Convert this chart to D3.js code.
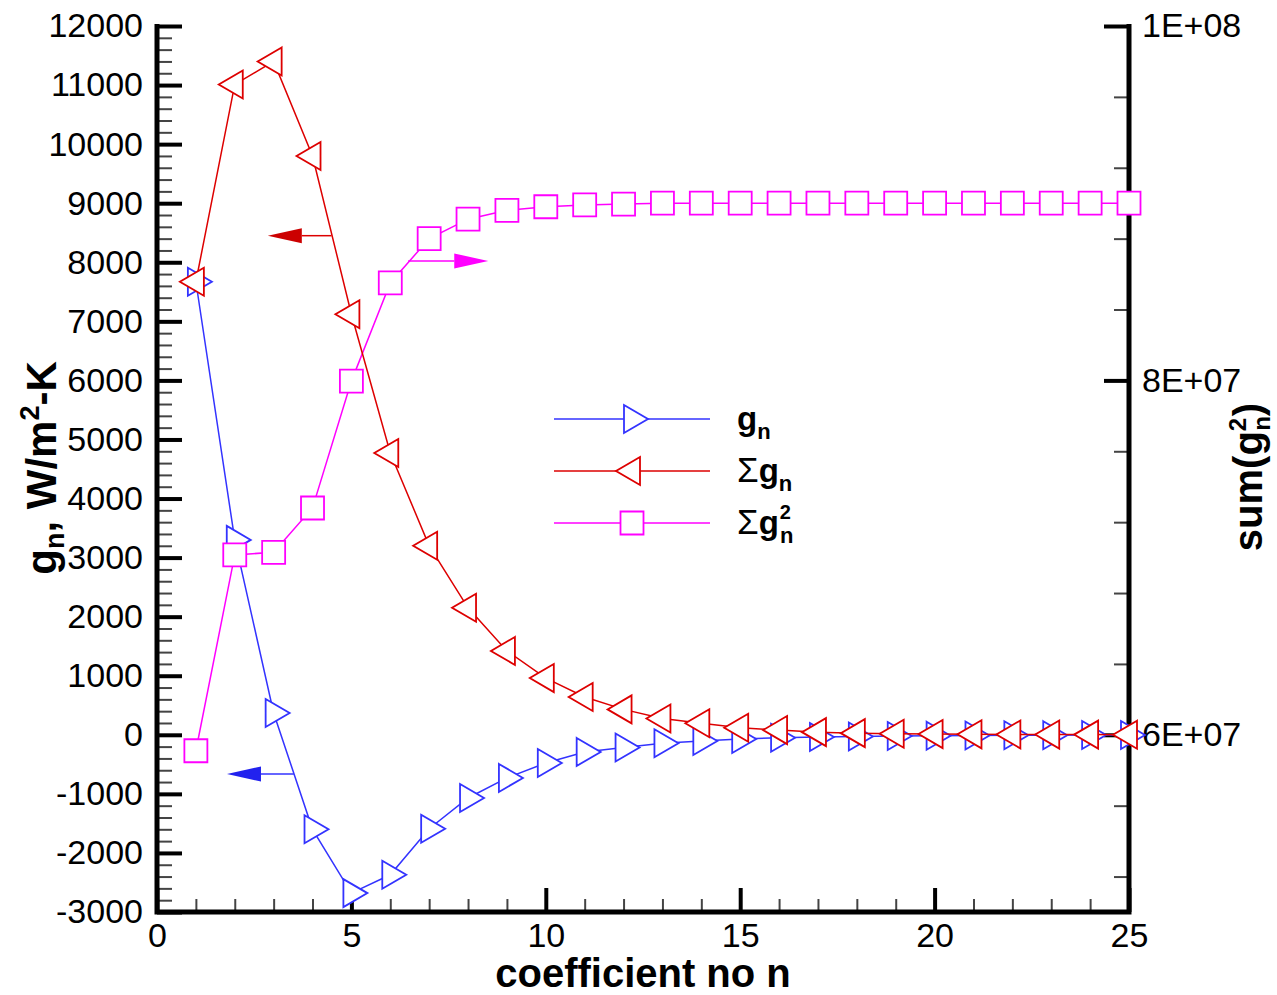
<!DOCTYPE html>
<html>
<head>
<meta charset="utf-8">
<script src="https://cdn.jsdelivr.net/npm/d3@7"></script>
<style>
  body { margin: 0; background: #fff; }
  svg { display: block; font-family: "Liberation Sans", Arial, sans-serif; }
  .tick text { fill: #000; }
</style>
</head>
<body>
<div id="chart"></div>
<script>
// coefficient index n
const coeffN = [1, 2, 3, 4, 5, 6, 7, 8, 9, 10, 11, 12, 13, 14, 15, 16, 17, 18, 19, 20, 21, 22, 23, 24, 25];

// g_n, W/m2-K
const gN = [7670, 3300, 370, -1600, -2680, -2370, -1590, -1070, -730, -477, -290, -215,
  -144, -105, -71, -49, -37, -28, -20, -15, -11, -8, -6, -4, -3];

// running sum of g_n
const sumGn = [7670, 11010, 11400, 9800, 7120, 4770, 3200, 2150, 1420, 960, 640, 430,
  275, 195, 120, 80, 45, 28, 18, 12, 8, 6, 4, 3, 2];

// running sum of g_n^2 (right axis)
const sumGn2 = [5.91e7, 7.015e7, 7.03e7, 7.28e7, 7.996e7, 8.55e7, 8.80e7, 8.91e7, 8.96e7,
  8.98e7, 8.99e7, 8.995e7, 9.0e7, 9.0e7, 9.0e7, 9.0e7, 9.0e7, 9.0e7, 9.0e7, 9.0e7,
  9.0e7, 9.0e7, 9.0e7, 9.0e7, 9.0e7];

// tick labels
const xTicks = [0, 5, 10, 15, 20, 25];
const leftTicks = [-3000, -2000, -1000, 0, 1000, 2000, 3000, 4000, 5000, 6000, 7000, 8000, 9000, 10000, 11000, 12000];
const rightTicks = [6e7, 8e7, 1e8];
const rightTickLabels = ["6E+07", "8E+07", "1E+08"];

// axis-pointing arrows: [x from, x to, y], y on the named axis
const arrowsLeft = [
  { from: 4.49, to: 2.85, y: 8450, color: "#dd0000", head: "#cc0000" },
  { from: 3.52, to: 1.80, y: -664, color: "#3333ff", head: "#2222ee" }
];
const arrowsRight = [
  { from: 6.46, to: 8.52, y: 8.674e7, color: "#ff00ff", head: "#ff00ff" }
];

const width = 1277, height = 995;
const plot = { left: 157, right: 1129, top: 26, bottom: 912 };

const svg = d3.select("#chart").append("svg")
  .attr("width", width)
  .attr("height", height);

const x = d3.scaleLinear().domain([0, 25]).range([plot.left, plot.right]);
const yL = d3.scaleLinear().domain([-3000, 12000]).range([plot.bottom, plot.top]);
const yR = d3.scaleLinear().domain([5e7, 1e8]).range([plot.bottom, plot.top]);

// plain hyphen for negatives, like the original
const intFormat = d => String(d);

// ---- minor ticks
function styleMinor(g) {
  g.select(".domain").remove();
  g.selectAll(".tick line").attr("stroke", "#444").attr("stroke-width", 2);
}
svg.append("g")
  .attr("transform", `translate(${plot.left},0)`)
  .call(d3.axisLeft(yL).tickValues(d3.range(-3000, 12001, 200)).tickSize(-15).tickFormat(""))
  .call(styleMinor);
svg.append("g")
  .attr("transform", `translate(0,${plot.bottom})`)
  .call(d3.axisBottom(x).tickValues(d3.range(0, 26, 1)).tickSize(-13).tickFormat(""))
  .call(styleMinor);
svg.append("g")
  .attr("transform", `translate(${plot.right},0)`)
  .call(d3.axisRight(yR).tickValues(d3.range(5.2e7, 1e8 + 1, 4e6)).tickSize(-15).tickFormat(""))
  .call(styleMinor);

// ---- major ticks
function styleMajor(g) {
  g.select(".domain").remove();
  g.selectAll(".tick line").attr("stroke", "#000").attr("stroke-width", 4);
  g.selectAll(".tick text").attr("font-size", 34);
}
svg.append("g")
  .attr("transform", `translate(${plot.left},0)`)
  .call(d3.axisLeft(yL).tickValues(leftTicks).tickSize(-25).tickPadding(14).tickFormat(intFormat))
  .call(styleMajor);
svg.append("g")
  .attr("transform", `translate(0,${plot.bottom})`)
  .call(d3.axisBottom(x).tickValues(xTicks).tickSize(-24).tickPadding(11).tickFormat(intFormat))
  .call(styleMajor);
svg.append("g")
  .attr("transform", `translate(${plot.right},0)`)
  .call(d3.axisRight(yR).tickValues(rightTicks).tickSize(-25).tickPadding(13)
    .tickFormat((d, i) => rightTickLabels[i]))
  .call(styleMajor);

// ---- frame lines (left, bottom, right)
svg.append("path")
  .attr("d", `M${plot.left},${plot.top - 2}V${plot.bottom}H${plot.right}V${plot.top - 2}`)
  .attr("fill", "none")
  .attr("stroke", "#000")
  .attr("stroke-width", 5)
  .attr("stroke-linejoin", "miter");

// ---- markers
function triRight(cx, cy) {
  return `M${cx - 8},${cy - 14}L${cx + 16},${cy}L${cx - 8},${cy + 14}Z`;
}
function triLeft(cx, cy) {
  return `M${cx + 8},${cy - 14}L${cx - 16},${cy}L${cx + 8},${cy + 14}Z`;
}
function square(cx, cy) {
  return `M${cx - 11.5},${cy - 11.5}h23v23h-23Z`;
}

const series = [
  { values: gN, y: yL, color: "#3333ff", marker: triRight },
  { values: sumGn2, y: yR, color: "#ff00ff", marker: square },
  { values: sumGn, y: yL, color: "#dd0000", marker: triLeft }
];

series.forEach(s => {
  const g = svg.append("g");
  const line = d3.line().x((d, i) => x(coeffN[i])).y(d => s.y(d));
  g.append("path")
    .attr("d", line(s.values))
    .attr("fill", "none")
    .attr("stroke", s.color)
    .attr("stroke-width", 1.5);
  g.selectAll("path.mk")
    .data(s.values)
    .join("path")
    .attr("class", "mk")
    .attr("d", (d, i) => s.marker(x(coeffN[i]), s.y(d)))
    .attr("fill", "#fff")
    .attr("stroke", s.color)
    .attr("stroke-width", 1.8);
});

// ---- arrows
function drawArrow(a, yScale) {
  const yy = yScale(a.y);
  const x0 = x(a.from), x1 = x(a.to);
  const dir = Math.sign(x1 - x0);
  const base = x1 - dir * 34;
  svg.append("line")
    .attr("x1", x0).attr("x2", base)
    .attr("y1", yy).attr("y2", yy)
    .attr("stroke", a.color)
    .attr("stroke-width", 1.5);
  svg.append("path")
    .attr("d", `M${x1},${yy}L${base},${yy - 7.5}L${base},${yy + 7.5}Z`)
    .attr("fill", a.head);
}
arrowsLeft.forEach(a => drawArrow(a, yL));
arrowsRight.forEach(a => drawArrow(a, yR));

// ---- legend
const legend = svg.append("g");
const legendRows = [
  { y: 419, s: series[0], label: "gn" },
  { y: 471, s: series[2], label: "sgn" },
  { y: 523, s: series[1], label: "sgn2" }
];
legendRows.forEach(r => {
  legend.append("line")
    .attr("x1", 554).attr("x2", 710)
    .attr("y1", r.y).attr("y2", r.y)
    .attr("stroke", r.s.color)
    .attr("stroke-width", 1.5);
  legend.append("path")
    .attr("d", r.s.marker(632, r.y))
    .attr("fill", "#fff")
    .attr("stroke", r.s.color)
    .attr("stroke-width", 1.8);
  const t = legend.append("text")
    .attr("x", 737)
    .attr("y", r.y + 11)
    .attr("font-size", 33)
    .attr("font-weight", "bold");
  if (r.label !== "gn") {
    t.append("tspan").attr("font-weight", "normal").attr("font-size", 35).text("Σ");
  }
  t.append("tspan").text("g");
  if (r.label === "sgn2") {
    t.append("tspan").attr("font-size", 20).attr("dy", -15).attr("dx", 1).text("2");
    t.append("tspan").attr("font-size", 22).attr("dy", 24).attr("dx", -11).text("n");
  } else {
    t.append("tspan").attr("font-size", 22).attr("dy", 9).text("n");
  }
});

// ---- axis titles
svg.append("text")
  .attr("x", 643)
  .attr("y", 987)
  .attr("text-anchor", "middle")
  .attr("font-size", 40)
  .attr("font-weight", "bold")
  .text("coefficient no n");

const yTitle = svg.append("text")
  .attr("transform", "translate(56,468) rotate(-90)")
  .attr("text-anchor", "middle")
  .attr("font-size", 42)
  .attr("font-weight", "bold");
yTitle.append("tspan").text("g");
yTitle.append("tspan").attr("font-size", 27).attr("dy", 8).text("n");
yTitle.append("tspan").attr("dy", -8).text(", W/m");
yTitle.append("tspan").attr("font-size", 27).attr("dy", -17).text("2");
yTitle.append("tspan").attr("dy", 17).text("-K");

const rTitle = svg.append("text")
  .attr("transform", "translate(1262,477) rotate(-90)")
  .attr("text-anchor", "middle")
  .attr("font-size", 40)
  .attr("font-weight", "bold");
rTitle.append("tspan").text("sum(g");
rTitle.append("tspan").attr("font-size", 24).attr("dy", -16).text("2");
rTitle.append("tspan").attr("font-size", 24).attr("dy", 24).attr("dx", -13).text("n");
rTitle.append("tspan").attr("dy", -8).text(")");
</script>
</body>
</html>
